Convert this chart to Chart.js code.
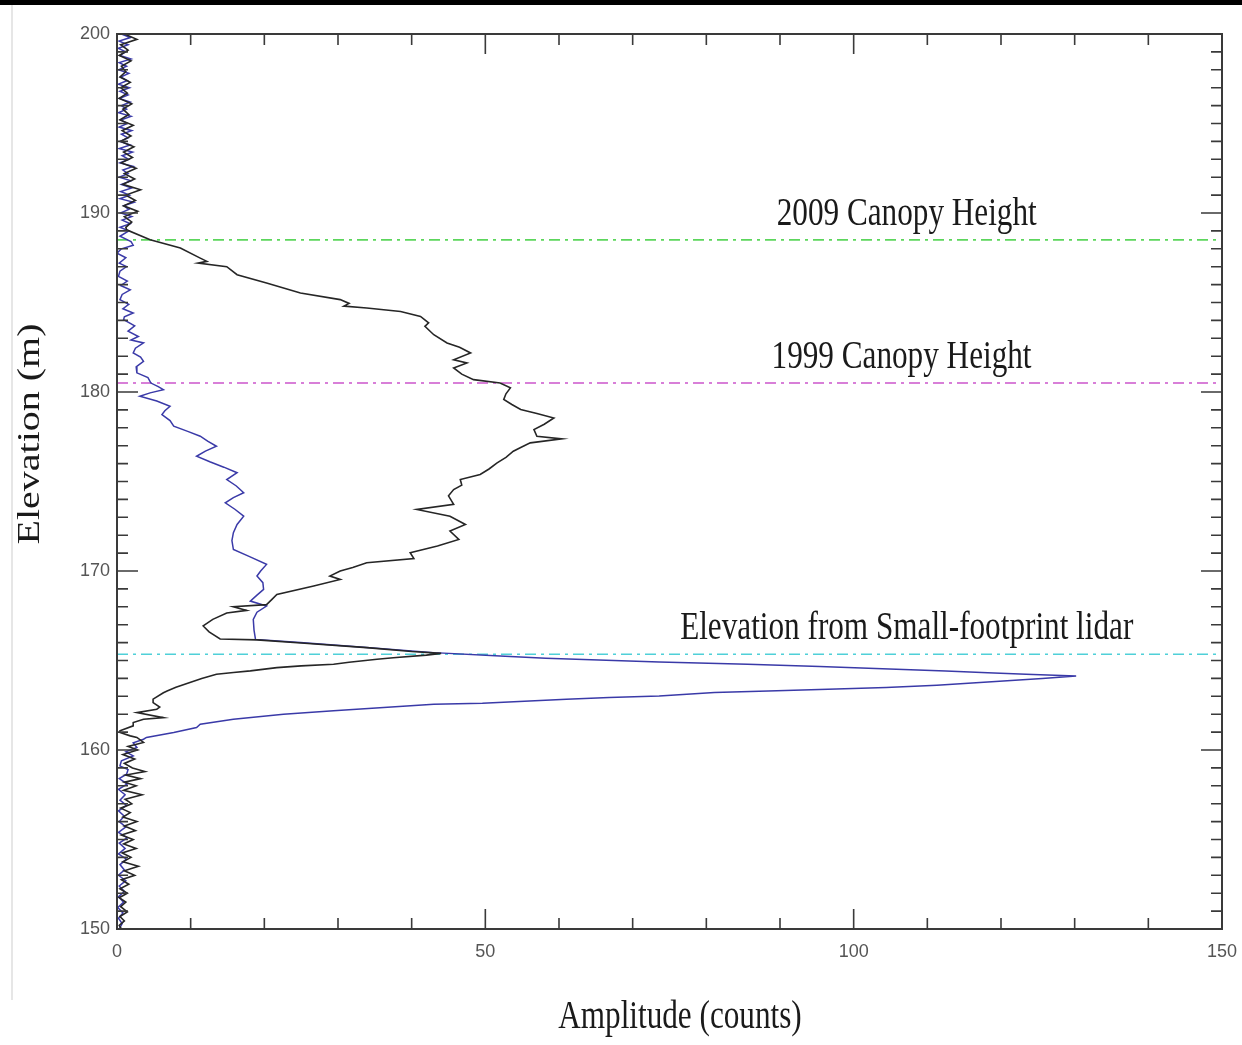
<!DOCTYPE html>
<html lang="en">
<head>
    <meta charset="UTF-8">
    <title>Waveform vs Elevation</title>
    <script src="https://cdn.jsdelivr.net/npm/chart.js"></script>
    <style>
        body { margin: 0; background: #fff; }
        canvas { display: block; }
    </style>
</head>
<body>
<canvas id="waveChart" width="1242" height="1045"></canvas>
<script>
    // black waveform (2009) - elevation (m) and amplitude (counts)
    const blackElev = [200.0, 199.7, 199.4, 199.1, 198.8, 198.5, 198.2, 197.9, 197.6, 197.3, 197.0, 196.7, 196.4, 196.1, 195.8, 195.5, 195.2, 194.9, 194.6, 194.3, 194.0, 193.7, 193.4, 193.1, 192.8, 192.5, 192.2, 191.9, 191.6, 191.3, 191.0, 190.7, 190.4, 190.1, 189.8, 189.5, 189.2, 189.06,
        188.5, 188.04, 187.48, 187.3, 187.2, 187.0, 186.55, 186.09, 185.53, 185.16, 184.95, 184.8, 184.69, 184.5, 184.22, 183.86, 183.67, 183.2, 182.74, 182.5, 182.18, 181.8, 181.62, 181.34, 181.0, 180.69, 180.5, 180.23, 179.9, 179.58, 179.3, 179.02, 178.8, 178.55, 178.2, 177.9, 177.53, 177.38, 177.16, 176.9, 176.69, 176.35, 176.04, 175.7, 175.39,
        175.11, 174.8, 174.55, 174.2, 173.72, 173.44, 173.06, 172.6, 172.23, 171.76, 171.4, 171.02, 170.69, 170.46, 170.2, 170.0, 169.72, 169.53, 169.16, 168.69, 168.4, 168.12, 168.0, 167.8, 167.65, 167.3, 166.93, 166.6, 166.2,
        166.15, 165.98, 165.72, 165.5, 165.4, 165.3, 165.15, 165.07, 164.9, 164.79, 164.7, 164.6, 164.42, 164.33, 164.23, 164.0, 163.77, 163.5, 163.3, 163.2, 162.84, 162.65, 162.4, 162.28, 162.09, 161.81, 161.72, 161.53, 161.35, 161.07, 160.98, 160.79, 160.7, 160.42,
        160.2, 160.0, 159.75, 159.5, 159.25, 159.0, 158.8, 158.6, 158.4, 158.2, 158.0, 157.75, 157.5, 157.25, 157.0, 156.75, 156.5, 156.25, 156.0, 155.75, 155.5, 155.25, 155.0, 154.75, 154.5, 154.25, 154.0, 153.75, 153.5, 153.25, 153.0, 152.75, 152.5, 152.25, 152.0, 151.75, 151.5, 151.25, 150.95, 150.7, 150.45, 150.2, 150.0];
    const blackAmp = [1.0, 2.7, 0.5, 1.5, 0.3, 1.9, 0.6, 1.2, 0.4, 1.8, 0.5, 1.4, 0.3, 2.0, 0.8, 1.6, 0.4, 2.2, 0.7, 1.9, 0.5, 2.3, 0.9, 2.1, 0.6, 2.6, 1.0, 2.4, 0.8, 3.2, 1.2, 2.5, 0.9, 2.8, 1.0, 2.0, 1.2, 1.3,
        4.5, 8.6, 11.3, 12.2, 11.0, 14.9, 16.3, 20.3, 24.9, 30.3, 31.5, 30.8, 33.9, 38.5, 41.2, 42.3, 41.8, 43.0, 44.8, 46.5, 48.0, 45.7, 47.5, 45.7, 46.8, 48.4, 52.0, 53.4, 52.8, 52.5, 53.6, 54.8, 57.0, 59.3, 58.0, 56.6, 57.0, 60.4, 56.1, 54.8, 53.8, 52.8, 51.6, 50.5, 49.3,
        46.6, 46.8, 45.7, 45.0, 45.7, 40.7, 45.2, 47.3, 45.2, 46.4, 43.5, 39.8, 40.3, 33.9, 32.0, 30.3, 28.9, 30.3, 26.7, 21.7, 21.0, 20.3, 15.8, 17.6, 14.9, 13.0, 11.7, 12.5, 14.0,
        19.0, 25.0, 33.9, 40.0, 44.0, 42.0, 37.5, 35.3, 31.5, 29.4, 25.0, 21.7, 18.1, 15.8, 13.5, 11.5, 9.9, 8.0, 6.8, 6.3, 4.9, 4.9, 5.8, 5.4, 2.7, 6.3, 3.6, 2.2, 2.2, 0.4, 0.4, 1.8, 2.7, 3.6,
        1.5, 2.8, 0.8, 2.4, 1.0, 2.1, 3.8, 1.2, 3.2, 1.0, 2.6, 0.9, 3.4, 1.1, 2.0, 0.5, 1.8, 0.8, 2.7, 1.0, 2.5, 0.6, 2.2, 0.9, 2.6, 0.7, 1.9, 0.8, 2.9, 1.0, 2.4, 0.6, 1.6, 0.4, 1.4, 0.3, 1.2, 0.5, 1.4, 0.4, 1.0, 0.3, 0.6];

    // blue waveform (1999)
    const blueElev = [200.0, 199.8, 199.6, 199.4, 199.2, 199.0, 198.8, 198.6, 198.4, 198.2, 198.0, 197.8, 197.6, 197.4, 197.2, 197.0, 196.8, 196.6, 196.4, 196.2, 196.0, 195.8, 195.6, 195.4, 195.2, 195.0, 194.8, 194.6, 194.4, 194.2, 194.0, 193.8, 193.6, 193.4, 193.2, 193.0, 192.8, 192.6, 192.4, 192.2, 192.0, 191.8, 191.6, 191.4, 191.2, 191.0, 190.8, 190.6, 190.4, 190.2, 190.0, 189.8, 189.6, 189.4, 189.2, 189.0,
        188.7, 188.4, 188.2, 188.0, 187.76, 187.5, 187.2, 187.0, 186.75, 186.46, 186.2, 185.95, 185.71, 185.45, 185.16, 184.9, 184.65, 184.41, 184.2, 184.04, 183.7, 183.4, 183.1, 182.9, 182.74, 182.45, 182.18, 181.95, 181.71, 181.4, 181.07, 180.8, 180.5, 180.3, 180.13, 179.95, 179.76, 179.5, 179.2, 178.95, 178.74, 178.4, 178.09, 177.8, 177.53, 177.25, 176.97, 176.7, 176.41, 176.1, 175.8, 175.49,
        175.11, 174.75, 174.37, 174.1, 173.81, 173.45, 173.06, 172.6, 172.14, 171.7, 171.2, 170.8, 170.37, 170.0, 169.72, 169.35, 168.97, 168.65, 168.32, 168.04, 167.7, 167.29, 166.7, 166.18,
        166.0, 165.72, 165.44, 165.25, 165.12, 164.92, 164.79, 164.66, 164.54, 164.41, 164.32, 164.23, 164.13, 163.99, 163.8, 163.62, 163.49, 163.39, 163.3, 163.21, 163.02, 162.93, 162.84, 162.72, 162.61, 162.56, 162.37, 162.19, 162.0, 161.72, 161.44, 161.26, 160.98, 160.7, 160.6,
        160.4, 160.14, 159.9, 159.67, 159.4, 159.11, 158.9, 158.65, 158.4, 158.1, 157.8, 157.5, 157.2, 156.9, 156.6, 156.3, 156.0, 155.7, 155.4, 155.1, 154.8, 154.5, 154.2, 153.9, 153.6, 153.3, 153.0, 152.7, 152.4, 152.1, 151.8, 151.5, 151.2, 150.9, 150.6, 150.3, 150.0];
    const blueAmp = [0.6, 1.8, 0.3, 1.5, 0.2, 1.2, 0.4, 1.9, 0.3, 1.3, 0.2, 1.6, 0.5, 1.4, 0.2, 1.7, 0.4, 1.5, 0.3, 1.8, 0.6, 1.3, 0.2, 1.9, 0.5, 1.4, 0.3, 2.0, 0.6, 1.5, 0.4, 1.8, 0.3, 2.1, 0.7, 1.6, 0.4, 2.2, 0.8, 1.5, 0.3, 1.9, 0.6, 2.0, 0.5, 1.7, 0.4, 2.3, 0.9, 1.6, 0.5, 2.0, 0.7, 1.8, 0.4, 1.6,
        0.4, 1.9, 2.2, 0.6, 0.0, 1.2, 0.3, 1.3, 0.4, 0.2, 1.4, 0.5, 1.8, 0.7, 0.4, 1.6, 0.8, 2.2, 1.0, 0.9, 2.4, 1.5, 2.9, 1.9, 3.6, 2.5, 2.2, 3.2, 3.6, 2.6, 2.7, 4.2, 4.6, 5.6, 6.3, 4.5, 3.1, 5.4, 7.2, 6.5, 6.1, 7.2, 7.7, 9.6, 11.3, 12.3, 13.5, 12.0, 10.8, 12.6, 14.5, 16.3,
        14.9, 16.2, 17.2, 15.8, 14.7, 16.0, 17.2, 16.3, 15.8, 15.6, 15.8, 18.0, 20.3, 19.5, 19.0, 19.8, 19.9, 19.0, 18.1, 20.3, 19.0, 18.5, 18.6, 18.8,
        24.9, 33.9, 43.0, 52.0, 58.2, 73.6, 85.6, 95.4, 103.9, 112.5, 118.2, 123.4, 130.2, 125.6, 118.2, 111.3, 104.4, 96.5, 88.4, 81.1, 73.6, 66.8, 61.0, 55.3, 49.6, 43.0, 36.2, 29.4, 22.6, 15.8, 11.3, 10.8, 7.7, 4.0, 3.6,
        2.2, 2.7, 1.2, 2.2, 0.6, 0.4, 1.5, 1.3, 0.3, 1.4, 0.2, 1.1, 0.4, 1.3, 0.2, 1.0, 0.3, 1.2, 0.2, 1.4, 0.3, 1.1, 0.2, 1.3, 0.4, 1.0, 0.2, 1.2, 0.3, 1.0, 0.2, 0.9, 0.1, 0.8, 0.2, 0.7, 0.3];

    // horizontal reference heights
    const refNames = ['2009 Canopy Height', '1999 Canopy Height', 'Elevation from Small-footprint lidar'];
    const refElev = [188.5, 180.5, 165.35];
    const refColors = ['#5cd65c', '#cc55cc', '#4fd0d8'];
    const refLabelAmp = [107.2, 106.5, 107.2];

    const xTicks = [0, 50, 100, 150];
    const yTicks = [150, 160, 170, 180, 190, 200];

    const toPoints = (elev, amp) => elev.map((e, i) => ({ x: amp[i], y: e }));

    const datasets = [
        {
            data: toPoints(blackElev, blackAmp),
            borderColor: '#262626',
            borderWidth: 1.6
        },
        {
            data: toPoints(blueElev, blueAmp),
            borderColor: '#3a3aa8',
            borderWidth: 1.5
        }
    ];
    refElev.forEach((e, i) => {
        datasets.push({
            data: [{ x: 0, y: e }, { x: 150, y: e }],
            borderColor: refColors[i],
            borderWidth: 1.6,
            borderDash: [11, 5, 3, 5]
        });
    });

    // frame, inward ticks, annotation texts and axis titles
    const decorPlugin = {
        id: 'decor',
        afterDraw(chart) {
            const ctx = chart.ctx;
            const a = chart.chartArea;
            const xs = chart.scales.x, ys = chart.scales.y;
            ctx.save();

            // scan artefacts: black band on top, faint line at left
            ctx.fillStyle = '#000';
            ctx.fillRect(0, 0, chart.width, 5);
            ctx.strokeStyle = '#e6e6e6';
            ctx.lineWidth = 2;
            ctx.beginPath();
            ctx.moveTo(12, 5);
            ctx.lineTo(12, 1000);
            ctx.stroke();

            ctx.strokeStyle = '#3a3a3a';
            ctx.lineWidth = 2;
            ctx.strokeRect(a.left, a.top, a.right - a.left, a.bottom - a.top);

            ctx.lineWidth = 1.6;
            ctx.beginPath();
            for (let v = 0; v <= 150; v += 10) {
                const px = xs.getPixelForValue(v);
                const len = v % 50 === 0 ? 20 : 11;
                ctx.moveTo(px, a.bottom); ctx.lineTo(px, a.bottom - len);
                ctx.moveTo(px, a.top); ctx.lineTo(px, a.top + len);
            }
            for (let v = 150; v <= 200; v += 1) {
                const py = ys.getPixelForValue(v);
                const len = v % 10 === 0 ? 21 : 11;
                ctx.moveTo(a.left, py); ctx.lineTo(a.left + len, py);
                ctx.moveTo(a.right, py); ctx.lineTo(a.right - len, py);
            }
            ctx.stroke();

            ctx.fillStyle = '#1a1a1a';
            ctx.font = '40px "Liberation Serif", "Times New Roman", serif';
            ctx.textAlign = 'center';
            ctx.textBaseline = 'alphabetic';
            refNames.forEach((name, i) => {
                const px = xs.getPixelForValue(refLabelAmp[i]);
                const py = ys.getPixelForValue(refElev[i]) - 15;
                ctx.save();
                ctx.translate(px, py);
                ctx.scale(0.78, 1);
                ctx.fillText(name, 0, 0);
                ctx.restore();
            });

            ctx.textBaseline = 'middle';
            ctx.save();
            ctx.translate(680, 1017);
            ctx.scale(0.78, 1);
            ctx.fillText('Amplitude (counts)', 0, 0);
            ctx.restore();

            ctx.save();
            ctx.translate(31, 434);
            ctx.scale(0.78, 1);
            ctx.rotate(-Math.PI / 2);
            ctx.fillText('Elevation (m)', 0, 0);
            ctx.restore();

            ctx.restore();
        }
    };

    const ctx = document.getElementById('waveChart').getContext('2d');
    const chart = new Chart(ctx, {
        type: 'scatter',
        data: { datasets: datasets },
        options: {
            responsive: false,
            animation: false,
            devicePixelRatio: 1,
            showLine: true,
            layout: { padding: { top: 34, right: 20, left: 0, bottom: 0 } },
            elements: {
                point: { radius: 0, hoverRadius: 0 },
                line: { tension: 0, fill: false }
            },
            plugins: {
                legend: { display: false },
                tooltip: { enabled: false }
            },
            scales: {
                x: {
                    type: 'linear',
                    min: 0,
                    max: 150,
                    afterBuildTicks: (scale) => { scale.ticks = xTicks.map(v => ({ value: v })); },
                    afterFit: (scale) => {
                        scale.height = 116;
                        scale.paddingLeft = 0;
                        scale.paddingRight = 0;
                    },
                    grid: { display: false, drawTicks: false },
                    border: { display: false },
                    ticks: {
                        padding: 12,
                        color: '#555',
                        font: { family: '"Liberation Sans", Arial, sans-serif', size: 18 },
                        maxRotation: 0
                    }
                },
                y: {
                    type: 'linear',
                    min: 150,
                    max: 200,
                    afterBuildTicks: (scale) => { scale.ticks = yTicks.map(v => ({ value: v })); },
                    afterFit: (scale) => {
                        scale.width = 117;
                        scale.paddingTop = 0;
                        scale.paddingBottom = 0;
                    },
                    grid: { display: false, drawTicks: false },
                    border: { display: false },
                    ticks: {
                        padding: 7,
                        color: '#555',
                        font: { family: '"Liberation Sans", Arial, sans-serif', size: 18 }
                    }
                }
            }
        },
        plugins: [decorPlugin]
    });
</script>
</body>
</html>
